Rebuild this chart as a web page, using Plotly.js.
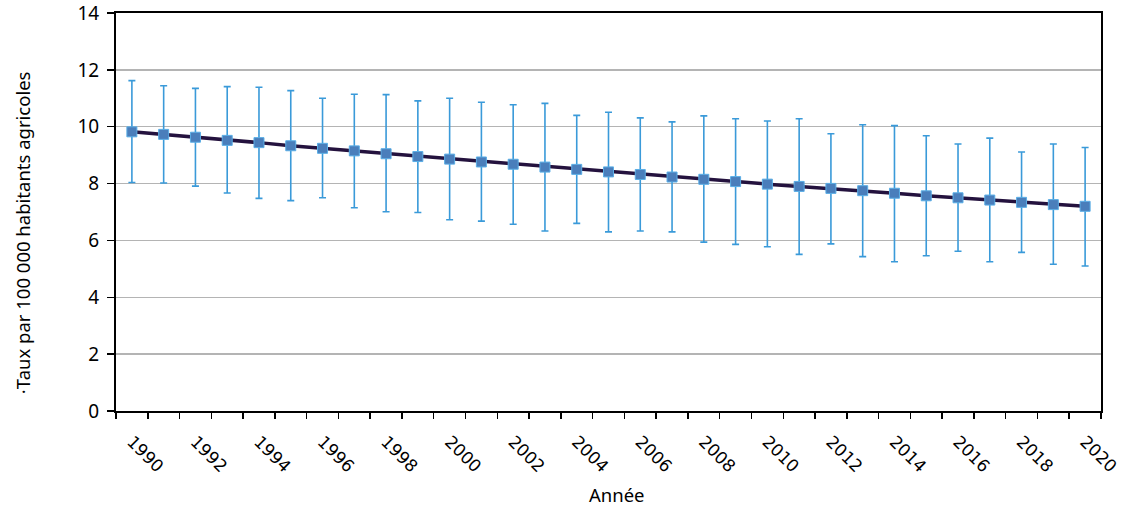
<!DOCTYPE html>
<html>
<head>
<meta charset="utf-8">
<script src="https://cdn.plot.ly/plotly-3.0.1.min.js"></script>
<style>html,body{margin:0;padding:0;background:#fff;}#chart{width:1122px;height:506px;}</style>
</head>
<body>
<div id="chart"></div>
<script>
const years = [1990,1991,1992,1993,1994,1995,1996,1997,1998,1999,2000,2001,2002,2003,2004,2005,2006,2007,2008,2009,2010,2011,2012,2013,2014,2015,2016,2017,2018,2019,2020];
const rate = [9.82,9.73,9.63,9.52,9.44,9.33,9.24,9.15,9.05,8.95,8.86,8.76,8.68,8.58,8.50,8.41,8.32,8.23,8.15,8.07,7.98,7.90,7.83,7.75,7.66,7.57,7.50,7.42,7.34,7.26,7.20];
const upper = [11.62,11.44,11.35,11.41,11.39,11.27,11.00,11.14,11.13,10.91,11.00,10.86,10.77,10.82,10.40,10.51,10.31,10.17,10.38,10.28,10.20,10.28,9.75,10.07,10.04,9.68,9.39,9.60,9.11,9.39,9.27];
const lower = [8.04,8.02,7.91,7.67,7.48,7.40,7.50,7.15,7.01,6.98,6.73,6.68,6.57,6.33,6.60,6.30,6.33,6.30,5.94,5.86,5.78,5.51,5.88,5.43,5.25,5.46,5.62,5.25,5.58,5.16,5.10];
const tickYears = [1990,1992,1994,1996,1998,2000,2002,2004,2006,2008,2010,2012,2014,2016,2018,2020];
const yTicks = [0,2,4,6,8,10,12,14];
const xTitle = 'Année';
const yTitle = '·Taux par 100 000 habitants agricoles';

const errPlus = rate.map((v,i)=>upper[i]-v);
const errMinus = rate.map((v,i)=>v-lower[i]);

const trace = {
  x: years, y: rate, type: 'scatter', mode: 'lines+markers',
  line: {color: '#24123e', width: 3.5},
  marker: {symbol: 'square', size: 10, color: '#4a7ebb', line: {color: '#5aaee6', width: 1}},
  error_y: {type: 'data', symmetric: false, array: errPlus, arrayminus: errMinus,
            color: '#3a9ad9', thickness: 1.6, width: 3.5},
  hoverinfo: 'x+y'
};

const titleFont = {family: 'Noto Sans', size: 18.5, color: '#000'};

const layout = {
  width: 1122, height: 506,
  margin: {l: 116, r: 21, t: 13, b: 95},
  paper_bgcolor: '#fff', plot_bgcolor: '#fff',
  showlegend: false,
  xaxis: {
    type: 'linear', range: [1989.5, 2020.5],
    tickvals: tickYears, ticktext: tickYears.map(String),
    ticks: '', tickangle: 45, ticklabelstandoff: 12, ticklabeloverflow: 'allow',
    tickfont: {family: 'DejaVu Sans', size: 17, color: '#000'},
    minor: {dtick: 1, tick0: 1989.5, ticks: 'outside', ticklen: 6, tickcolor: '#000', tickwidth: 1.5, showgrid: false},
    showgrid: false, zeroline: false,
    showline: true, linecolor: '#000', linewidth: 2, mirror: true,
    automargin: false
  },
  yaxis: {
    range: [0, 14], tickvals: yTicks,
    ticks: 'outside', ticklen: 7, tickcolor: '#000', tickwidth: 1.5,
    ticklabelstandoff: 4, ticklabeloverflow: 'allow',
    tickfont: {family: 'Noto Sans', size: 19, color: '#000'},
    showgrid: true, gridcolor: '#b4b4b4', gridwidth: 1.5,
    zeroline: false,
    showline: true, linecolor: '#000', linewidth: 2, mirror: true,
    automargin: false
  },
  annotations: [
    {text: xTitle, xref: 'paper', yref: 'paper', x: 0.5086, y: -0.211,
     xanchor: 'center', yanchor: 'middle', showarrow: false, font: titleFont},
    {text: yTitle, xref: 'paper', yref: 'paper', x: -0.0954, y: 0.447, textangle: -90,
     xanchor: 'center', yanchor: 'middle', showarrow: false, font: titleFont}
  ]
};

Plotly.newPlot('chart', [trace], layout, {displayModeBar: false, staticPlot: true});
</script>
</body>
</html>
